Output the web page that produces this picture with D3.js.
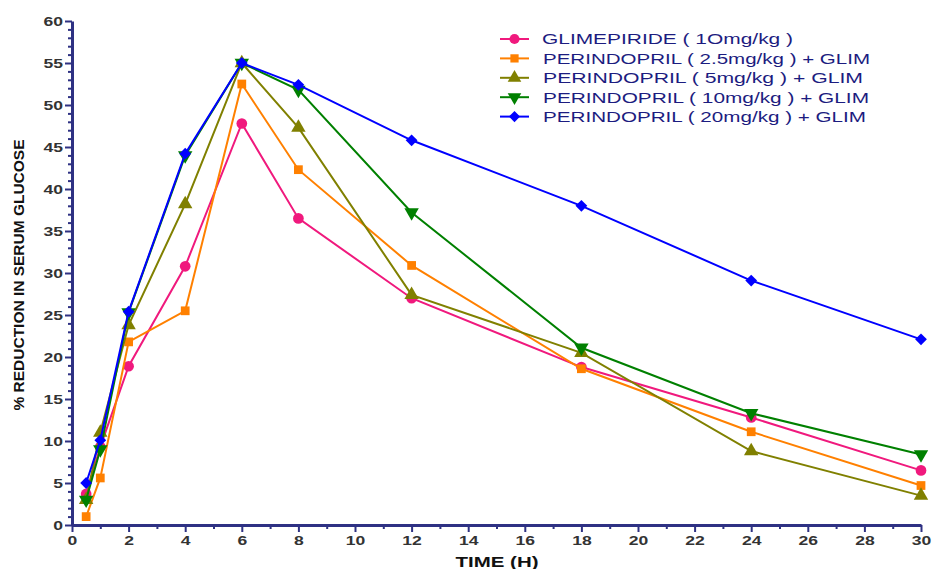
<!DOCTYPE html>
<html>
<head>
<meta charset="utf-8">
<script src="https://cdn.jsdelivr.net/npm/d3@7"></script>
<style>
  body { margin: 0; background: #fff; }
  svg { display: block; font-family: "Liberation Sans", Arial, sans-serif; }
</style>
</head>
<body>
<script>
var width = 934;
var height = 569;
var margin = {top: 21, right: 13, bottom: 44, left: 72};
var w = width - margin.left - margin.right;
var h = height - margin.top - margin.bottom;

// time points (hours)
var times = [0.5, 1, 2, 4, 6, 8, 12, 18, 24, 30];

// % reduction per group
var glimepiride = [3.7, 9.3, 18.9, 30.8, 47.8, 36.5, 27.0, 18.8, 12.8, 6.5];
var peri25 = [1.0, 5.6, 21.8, 25.5, 52.5, 42.3, 30.9, 18.6, 11.1, 4.7];
var peri5 = [3.0, 11.0, 23.8, 38.2, 55.0, 47.3, 27.4, 20.5, 8.8, 3.5];
var peri10 = [3.0, 9.0, 25.3, 44.0, 55.0, 51.8, 37.2, 21.1, 13.3, 8.4];
var peri20 = [5.0, 10.1, 25.4, 44.2, 55.0, 52.4, 45.8, 38.0, 29.1, 22.1];

var seriesNames = [
  "GLIMEPIRIDE ( 1Omg/kg )",
  "PERINDOPRIL ( 2.5mg/kg ) + GLIM",
  "PERINDOPRIL ( 5mg/kg ) + GLIM",
  "PERINDOPRIL ( 10mg/kg ) + GLIM",
  "PERINDOPRIL ( 20mg/kg ) + GLIM"
];
var seriesValues = [glimepiride, peri25, peri5, peri10, peri20];
var seriesColors = ["#f0197d", "#ff8000", "#808000", "#008000", "#0000ff"];
var seriesSymbols = ["circle", "square", "triangle", "triangleDown", "diamond"];

var xTicks = d3.range(0, 31, 2);
var yTicks = d3.range(0, 61, 5);

var axisColor = "#2e3183";
var labelColor = "#333333";
var stretch = 1.35; // the original fonts are drawn wide

var svg = d3.select("body").append("svg")
    .attr("width", width)
    .attr("height", height);

var chart = svg.append("g")
    .attr("transform", "translate(" + margin.left + "," + margin.top + ")");

var x = d3.scaleLinear().domain([0, 30]).range([0, w]);
var y = d3.scaleLinear().domain([0, 60]).range([h, 0]);

// minor ticks
chart.append("g")
    .attr("transform", "translate(0," + h + ")")
    .call(d3.axisBottom(x).tickValues(d3.range(1, 30, 2)).tickSize(4).tickFormat(""))
    .call(function(g) { g.select(".domain").remove(); })
    .selectAll("line").attr("stroke", axisColor).attr("stroke-width", 2);

chart.append("g")
    .call(d3.axisLeft(y).tickValues(d3.range(0, 61, 1).filter(function(v) { return v % 5 != 0; })).tickSize(4).tickFormat(""))
    .call(function(g) { g.select(".domain").remove(); })
    .selectAll("line").attr("stroke", axisColor).attr("stroke-width", 2);

// major axes
var xAxis = chart.append("g")
    .attr("transform", "translate(0," + h + ")")
    .call(d3.axisBottom(x).tickValues(xTicks).tickSize(7).tickSizeOuter(0).tickPadding(4));

var yAxis = chart.append("g")
    .call(d3.axisLeft(y).tickValues(yTicks).tickSize(7).tickSizeOuter(0).tickPadding(2));

[xAxis, yAxis].forEach(function(a) {
  a.select(".domain").attr("stroke", axisColor).attr("stroke-width", 3);
  a.selectAll(".tick line").attr("stroke", axisColor).attr("stroke-width", 2);
  a.selectAll(".tick text")
    .attr("fill", labelColor)
    .style("font-size", "13px")
    .style("font-weight", "bold");
});

xAxis.selectAll(".tick text").attr("transform", "scale(" + stretch + ",1)");
yAxis.selectAll(".tick text").attr("transform", "translate(-9,0) scale(" + stretch + ",1) translate(9,0)");

// axis titles
svg.append("text")
    .attr("x", 497)
    .attr("y", 567)
    .attr("text-anchor", "middle")
    .attr("fill", "#111")
    .attr("textLength", 83)
    .attr("lengthAdjust", "spacingAndGlyphs")
    .style("font-size", "15px")
    .style("font-weight", "bold")
    .text("TIME (H)");

svg.append("text")
    .attr("transform", "translate(24,275) rotate(-90)")
    .attr("text-anchor", "middle")
    .attr("fill", "#111")
    .attr("textLength", 271)
    .attr("lengthAdjust", "spacingAndGlyphs")
    .style("font-size", "14px")
    .style("font-weight", "bold")
    .text("% REDUCTION IN SERUM GLUCOSE");

function symbolPath(kind, size) {
  if (kind == "circle") return d3.symbol(d3.symbolCircle, size)();
  if (kind == "square") return d3.symbol(d3.symbolSquare, size * 0.85)();
  if (kind == "triangle" || kind == "triangleDown") return d3.symbol(d3.symbolTriangle, size)();
  var r = Math.sqrt(size) * 0.62; // wide diamond
  return "M0," + (-r) + "L" + r + ",0L0," + r + "L" + (-r) + ",0Z";
}

var line = d3.line()
    .x(function(d) { return x(d.t); })
    .y(function(d) { return y(d.v); });

seriesValues.forEach(function(vals, i) {
  var pts = times.map(function(t, j) { return {t: t, v: vals[j]}; });
  var g = chart.append("g");
  g.append("path")
      .datum(pts)
      .attr("d", line)
      .attr("fill", "none")
      .attr("stroke", seriesColors[i])
      .attr("stroke-width", 2);
  g.selectAll("path.pt")
      .data(pts)
    .enter().append("path")
      .attr("class", "pt")
      .attr("d", symbolPath(seriesSymbols[i], 90))
      .attr("transform", function(d) {
        return "translate(" + x(d.t) + "," + y(d.v) + ")" + (seriesSymbols[i] == "triangleDown" ? " rotate(180)" : "");
      })
      .attr("fill", seriesColors[i]);
});

// legend
var legendLengths = [251, 327, 320, 326, 323];
var legend = svg.append("g").attr("transform", "translate(500,39)");
seriesNames.forEach(function(name, i) {
  var row = legend.append("g").attr("transform", "translate(0," + (i * 19.4) + ")");
  row.append("line")
      .attr("x1", 0).attr("x2", 29)
      .attr("stroke", seriesColors[i])
      .attr("stroke-width", 2);
  row.append("path")
      .attr("d", symbolPath(seriesSymbols[i], 80))
      .attr("transform", "translate(14.5,0)" + (seriesSymbols[i] == "triangleDown" ? " rotate(180)" : ""))
      .attr("fill", seriesColors[i]);
  row.append("text")
      .attr("x", i == 0 ? 42 : 43)
      .attr("y", 0)
      .attr("dy", "0.36em")
      .attr("fill", "#1c1c80")
      .attr("textLength", legendLengths[i])
      .attr("lengthAdjust", "spacingAndGlyphs")
      .style("font-size", "15px")
      .text(name);
});
</script>
</body>
</html>
